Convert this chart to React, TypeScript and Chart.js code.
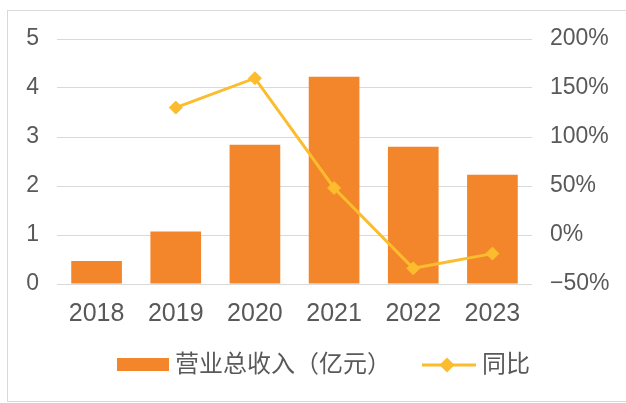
import { useEffect, useRef } from "react";
import { Chart, registerables } from "chart.js";

Chart.register(...registerables);

const years = ["2018", "2019", "2020", "2021", "2022", "2023"];
const revenue = [0.47, 1.07, 2.84, 4.23, 2.8, 2.23];
const growth = [null, 130, 160, 48, -34, -19];
const revenueLabel = "营业总收入（亿元）";
const growthLabel = "同比";
const leftMin = 0;
const leftMax = 5;
const leftStep = 1;
const rightMin = -50;
const rightMax = 200;
const rightStep = 50;

const BAR = "#F3852A";
const LINE = "#FBBC2D";
const TEXT = "#595959";
const GRID = "#D9D9D9";
const FAMILY = '"Liberation Sans", "Noto Sans CJK SC", sans-serif';
const BOXW = 69;

function makeBarIcon(): HTMLCanvasElement {
  const c = document.createElement("canvas");
  c.width = BOXW + 12;
  c.height = 14;
  const ctx = c.getContext("2d")!;
  ctx.fillStyle = BAR;
  ctx.fillRect(c.width - 52, 0, 52, 13);
  return c;
}

function makeLineIcon(): HTMLCanvasElement {
  const c = document.createElement("canvas");
  c.width = BOXW + 12;
  c.height = 18;
  const ctx = c.getContext("2d")!;
  const y = 9;
  ctx.strokeStyle = LINE;
  ctx.lineWidth = 3;
  ctx.beginPath();
  ctx.moveTo(c.width - 54, y);
  ctx.lineTo(c.width, y);
  ctx.stroke();
  const cx = c.width - 29;
  const r = 7.5;
  ctx.fillStyle = LINE;
  ctx.beginPath();
  ctx.moveTo(cx, y - r);
  ctx.lineTo(cx + r, y);
  ctx.lineTo(cx, y + r);
  ctx.lineTo(cx - r, y);
  ctx.closePath();
  ctx.fill();
  return c;
}

const noPad = (s: any) => {
  s.paddingTop = 0;
  s.paddingBottom = 0;
  s.paddingLeft = 0;
  s.paddingRight = 0;
};

export default function App() {
  const ref = useRef<HTMLCanvasElement>(null);

  useEffect(() => {
    if (!ref.current) return;
    const barIcon = makeBarIcon();
    const lineIcon = makeLineIcon();
    const chart = new Chart(ref.current, {
      data: {
        labels: years,
        datasets: [
          {
            type: "bar",
            label: revenueLabel,
            data: revenue,
            backgroundColor: BAR,
            yAxisID: "y",
            order: 2,
            barPercentage: 0.64,
            categoryPercentage: 1,
          },
          {
            type: "line",
            label: growthLabel,
            data: growth as any,
            borderColor: LINE,
            backgroundColor: LINE,
            borderWidth: 3,
            pointStyle: "rectRot",
            pointRadius: 6.5,
            pointBorderWidth: 1,
            pointBackgroundColor: LINE,
            pointBorderColor: LINE,
            yAxisID: "y1",
            order: 1,
            tension: 0,
          },
        ],
      } as any,
      options: {
        animation: false,
        responsive: true,
        maintainAspectRatio: false,
        layout: { padding: { top: 28, bottom: 14, left: 0, right: 10 } },
        plugins: {
          tooltip: { enabled: false },
          legend: {
            position: "bottom",
            labels: {
              usePointStyle: true,
              pointStyleWidth: BOXW,
              padding: 10,
              color: TEXT,
              font: { size: 24, family: FAMILY },
              generateLabels: (chart: any) => {
                const items = (Chart.defaults.plugins.legend.labels as any).generateLabels(chart);
                items.sort((a: any, b: any) => a.datasetIndex - b.datasetIndex);
                items.forEach((it: any) => {
                  it.pointStyle = it.datasetIndex === 0 ? barIcon : lineIcon;
                });
                return items;
              },
            },
          },
        },
        scales: {
          x: {
            grid: { display: false, drawTicks: false },
            border: { display: false },
            ticks: { color: TEXT, font: { size: 25, family: FAMILY }, padding: 15 },
            afterFit: (s: any) => {
              s.height = 59;
              noPad(s);
            },
          },
          y: {
            position: "left",
            min: leftMin,
            max: leftMax,
            ticks: { stepSize: leftStep, color: TEXT, font: { size: 23, family: FAMILY }, padding: 18 },
            grid: { color: GRID, drawTicks: false, lineWidth: 1 },
            border: { display: false },
            afterFit: (s: any) => {
              s.width = 49;
              noPad(s);
            },
          },
          y1: {
            position: "right",
            min: rightMin,
            max: rightMax,
            ticks: {
              stepSize: rightStep,
              color: TEXT,
              font: { size: 23, family: FAMILY },
              padding: 18,
              callback: (v: any) => (v < 0 ? "\u2212" + Math.abs(v) : String(v)) + "%",
            },
            grid: { display: false, drawTicks: false },
            border: { display: false },
            afterFit: (s: any) => {
              s.width = 84;
              noPad(s);
            },
          },
        },
      } as any,
    });
    return () => chart.destroy();
  }, []);

  return (
    <div
      style={{
        position: "absolute",
        left: 7,
        top: 10,
        width: 618,
        height: 390,
        border: "1px solid #D9D9D9",
        borderRight: "none",
        background: "#fff",
      }}
    >
      <div style={{ position: "absolute", left: 0, top: 0, width: 618, height: 390 }}>
        <canvas ref={ref} />
      </div>
    </div>
  );
}
